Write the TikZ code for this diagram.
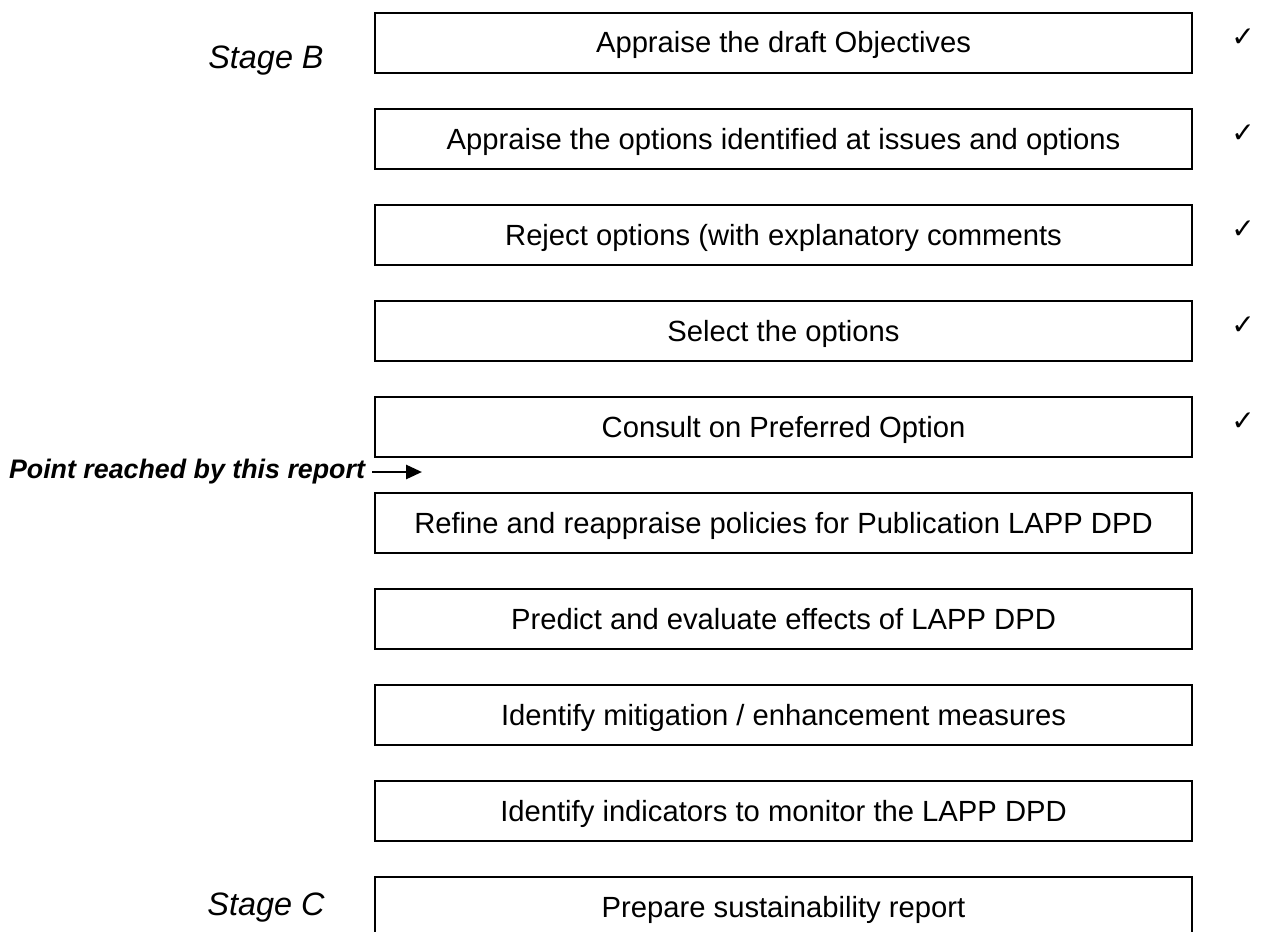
\documentclass[tikz,border=0pt]{standalone}
\usepackage{fontspec}
\setmainfont{Liberation Sans}
\newfontfamily\tickfont{DejaVu Sans}
\usetikzlibrary{positioning,arrows.meta}

\begin{document}
\begin{tikzpicture}[
	stepbox/.style={rectangle, draw, line width=1pt, minimum width=408.5pt, minimum
	height=30pt, text height=11pt, text depth=1pt, text centered, font=\fontsize{14.6}{16}\selectfont},
	stagelabel/.style={font=\fontsize{16.2}{18}\selectfont\itshape},
	tick/.style={font=\tickfont\fontsize{14}{16}\selectfont, inner sep=0pt},
	node distance=17pt]
		
		\useasboundingbox (0,0) rectangle (631pt,-465.5pt);
		
		%Stage B steps
		\node (objectives) at (391.75pt,-21.5pt) [stepbox]{Appraise the draft Objectives};
		\node (appraise) [stepbox, below=of objectives]{Appraise the options identified at issues and options};
		\node (reject) [stepbox, below=of appraise]{Reject options (with explanatory comments};
		\node (select) [stepbox, below=of reject]{Select the options};
		\node (consult) [stepbox, below=of select]{Consult on Preferred Option};
		\node (refine) [stepbox, below=of consult]{Refine and reappraise policies for Publication LAPP DPD};
		\node (predict) [stepbox, below=of refine]{Predict and evaluate effects of LAPP DPD};
		\node (mitigate) [stepbox, below=of predict]{Identify mitigation / enhancement measures};
		\node (indicators) [stepbox, below=of mitigate]{Identify indicators to monitor the LAPP DPD};
		
		%Stage C step
		\node (prepare) [stepbox, below=of indicators]{Prepare sustainability report};
		
		%Ticks
		\foreach \done in {objectives, appraise, reject, select, consult}
		\node (tick-\done) [tick, right=19pt of \done, yshift=2.5pt]{✓};
		
		%Stage labels
		\node (stageB) at (133pt,-30.5pt) [stagelabel]{Stage B};
		\node (stageC) at (133pt,-454pt) [stagelabel]{Stage C};
		
		%Progress marker
		\node (reached) at (186pt,-236pt) [anchor=east, font=\fontsize{13.4}{15}\selectfont\bfseries\itshape]{Point reached by this report};
		\coordinate (reachedTip) at (211pt,-236pt);
		\draw[line width=1.4pt, -{Triangle[length=8pt, width=7pt]}] (reached) -- (reachedTip);
		
		\end{tikzpicture}
\end{document}
